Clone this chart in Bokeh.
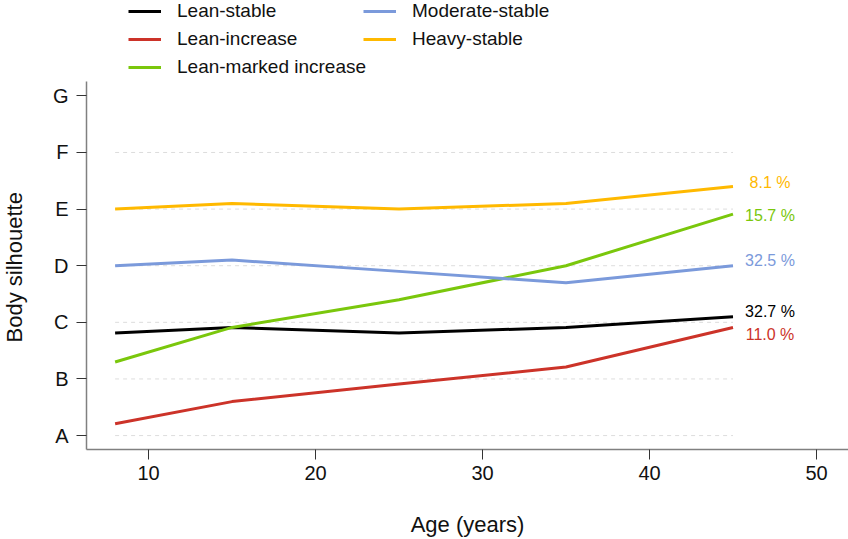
from bokeh.plotting import figure
from bokeh.models import Range1d, FixedTicker, Legend, LegendItem, Title, LinearAxis
from bokeh.core.properties import value
from bokeh.embed import file_html
from bokeh.resources import INLINE

ages = [8, 15, 25, 35, 45]
lean_stable = [2.81, 2.91, 2.81, 2.91, 3.10]
lean_increase = [1.21, 1.60, 1.91, 2.21, 2.91]
lean_marked = [2.30, 2.91, 3.40, 4.00, 4.91]
moderate_stable = [4.00, 4.10, 3.90, 3.70, 4.00]
heavy_stable = [5.00, 5.10, 5.00, 5.10, 5.40]

series_names = ["Lean-stable", "Lean-increase", "Lean-marked increase",
                "Moderate-stable", "Heavy-stable"]
series_values = [lean_stable, lean_increase, lean_marked, moderate_stable, heavy_stable]
colors = ["#000000", "#CC3329", "#7AC70C", "#7B9ADB", "#FFB900"]
pct_labels = ["32.7 %", "11.0 %", "15.7 %", "32.5 %", "8.1 %"]
label_dy = [-5, 7, 1, -5, -4]

silhouette_ticks = [1, 2, 3, 4, 5, 6, 7]
silhouette_labels = ["A", "B", "C", "D", "E", "F", "G"]
age_ticks = [10, 20, 30, 40, 50]

FONT = "Liberation Sans"

# frame: 762 x 452 px ; 16.7 px per year, 57 px per silhouette step
p = figure(width=848, height=539, output_backend="svg", toolbar_location=None,
           x_range=Range1d(6.287, 51.916), y_range=Range1d(0.754, 8.684),
           min_border_left=86, min_border_right=0, min_border_top=0,
           min_border_bottom=87)
p.outline_line_color = None
p.xgrid.visible = False
p.ygrid.visible = False
p.background_fill_color = "white"
p.border_fill_color = "white"

# dashed reference lines
for lv in silhouette_ticks[:-1]:
    p.line([ages[0], ages[-1]], [lv, lv], line_color="#DDDDDD", line_width=1,
           line_dash="4 4")

renderers = []
for name, vals, c in zip(series_names, series_values, colors):
    r = p.line(ages, vals, line_color=c, line_width=3)
    renderers.append(r)

for vals, c, lab, dy in zip(series_values, colors, pct_labels, label_dy):
    p.text(x=[ages[-1]], y=[vals[-1]], text=[lab], x_offset=37, y_offset=dy,
           text_align="center", text_baseline="middle", text_color=c,
           text_font=value(FONT), text_font_size="16px")

for ax in (p.xaxis[0], p.yaxis[0]):
    ax.axis_line_color = "#808080"
    ax.axis_line_width = 1.5
    ax.major_tick_line_color = "#333333"
    ax.major_tick_line_width = 1
    ax.major_tick_out = 10
    ax.major_tick_in = 0
    ax.minor_tick_line_color = None
    ax.major_label_text_font = FONT
    ax.major_label_text_font_size = "20px"
    ax.major_label_text_color = "#111111"
    ax.axis_label_text_font = FONT
    ax.axis_label_text_font_size = "22px"
    ax.axis_label_text_font_style = "normal"
    ax.axis_label_text_color = "#111111"

p.xaxis.ticker = FixedTicker(ticks=age_ticks)
p.xaxis.axis_label = "Age (years)"
p.xaxis.major_label_standoff = 6
p.xaxis.axis_label_standoff = 29

p.yaxis.ticker = FixedTicker(ticks=silhouette_ticks)
p.yaxis.bounds = (0.754, 7.246)
p.yaxis.major_label_overrides = {t: l for t, l in zip(silhouette_ticks, silhouette_labels)}
p.yaxis.major_label_standoff = 8
p.yaxis.major_label_orientation = "horizontal"

# empty spacer axis (blank label, draws nothing) to push the y title outwards
spacer = LinearAxis(ticker=FixedTicker(ticks=[]), axis_line_color=None,
                    major_tick_line_color=None, minor_tick_line_color=None,
                    major_tick_out=0, major_tick_in=0, minor_tick_out=0,
                    minor_tick_in=0, axis_label=" ", axis_label_standoff=2,
                    axis_label_text_font=FONT, axis_label_text_font_size="14px")
p.add_layout(spacer, "left")

# y-axis title, centred on the axis span rather than on the taller frame
ytitle = Title(text="Body silhouette", align="left", offset=107,
               vertical_align="top", standoff=0,
               text_font=FONT, text_font_size="22px", text_font_style="normal",
               text_color="#111111")
p.add_layout(ytitle, "left")


def make_legend(items, loc):
    return Legend(items=items, location=loc, orientation="vertical",
                  glyph_width=33, glyph_height=22, label_height=22,
                  label_standoff=16, spacing=6, padding=0, margin=0,
                  label_text_font=FONT, label_text_font_size="19px",
                  label_text_color="#111111",
                  border_line_alpha=0, background_fill_alpha=0)


leg1 = make_legend([LegendItem(label=series_names[i], renderers=[renderers[i]]) for i in range(3)],
                   (42, 371))
leg2 = make_legend([LegendItem(label=series_names[i], renderers=[renderers[i]]) for i in range(3, 5)],
                   (277, 399))
p.add_layout(leg1, "center")
p.add_layout(leg2, "center")

open("out.html", "w").write(file_html(p, INLINE))
